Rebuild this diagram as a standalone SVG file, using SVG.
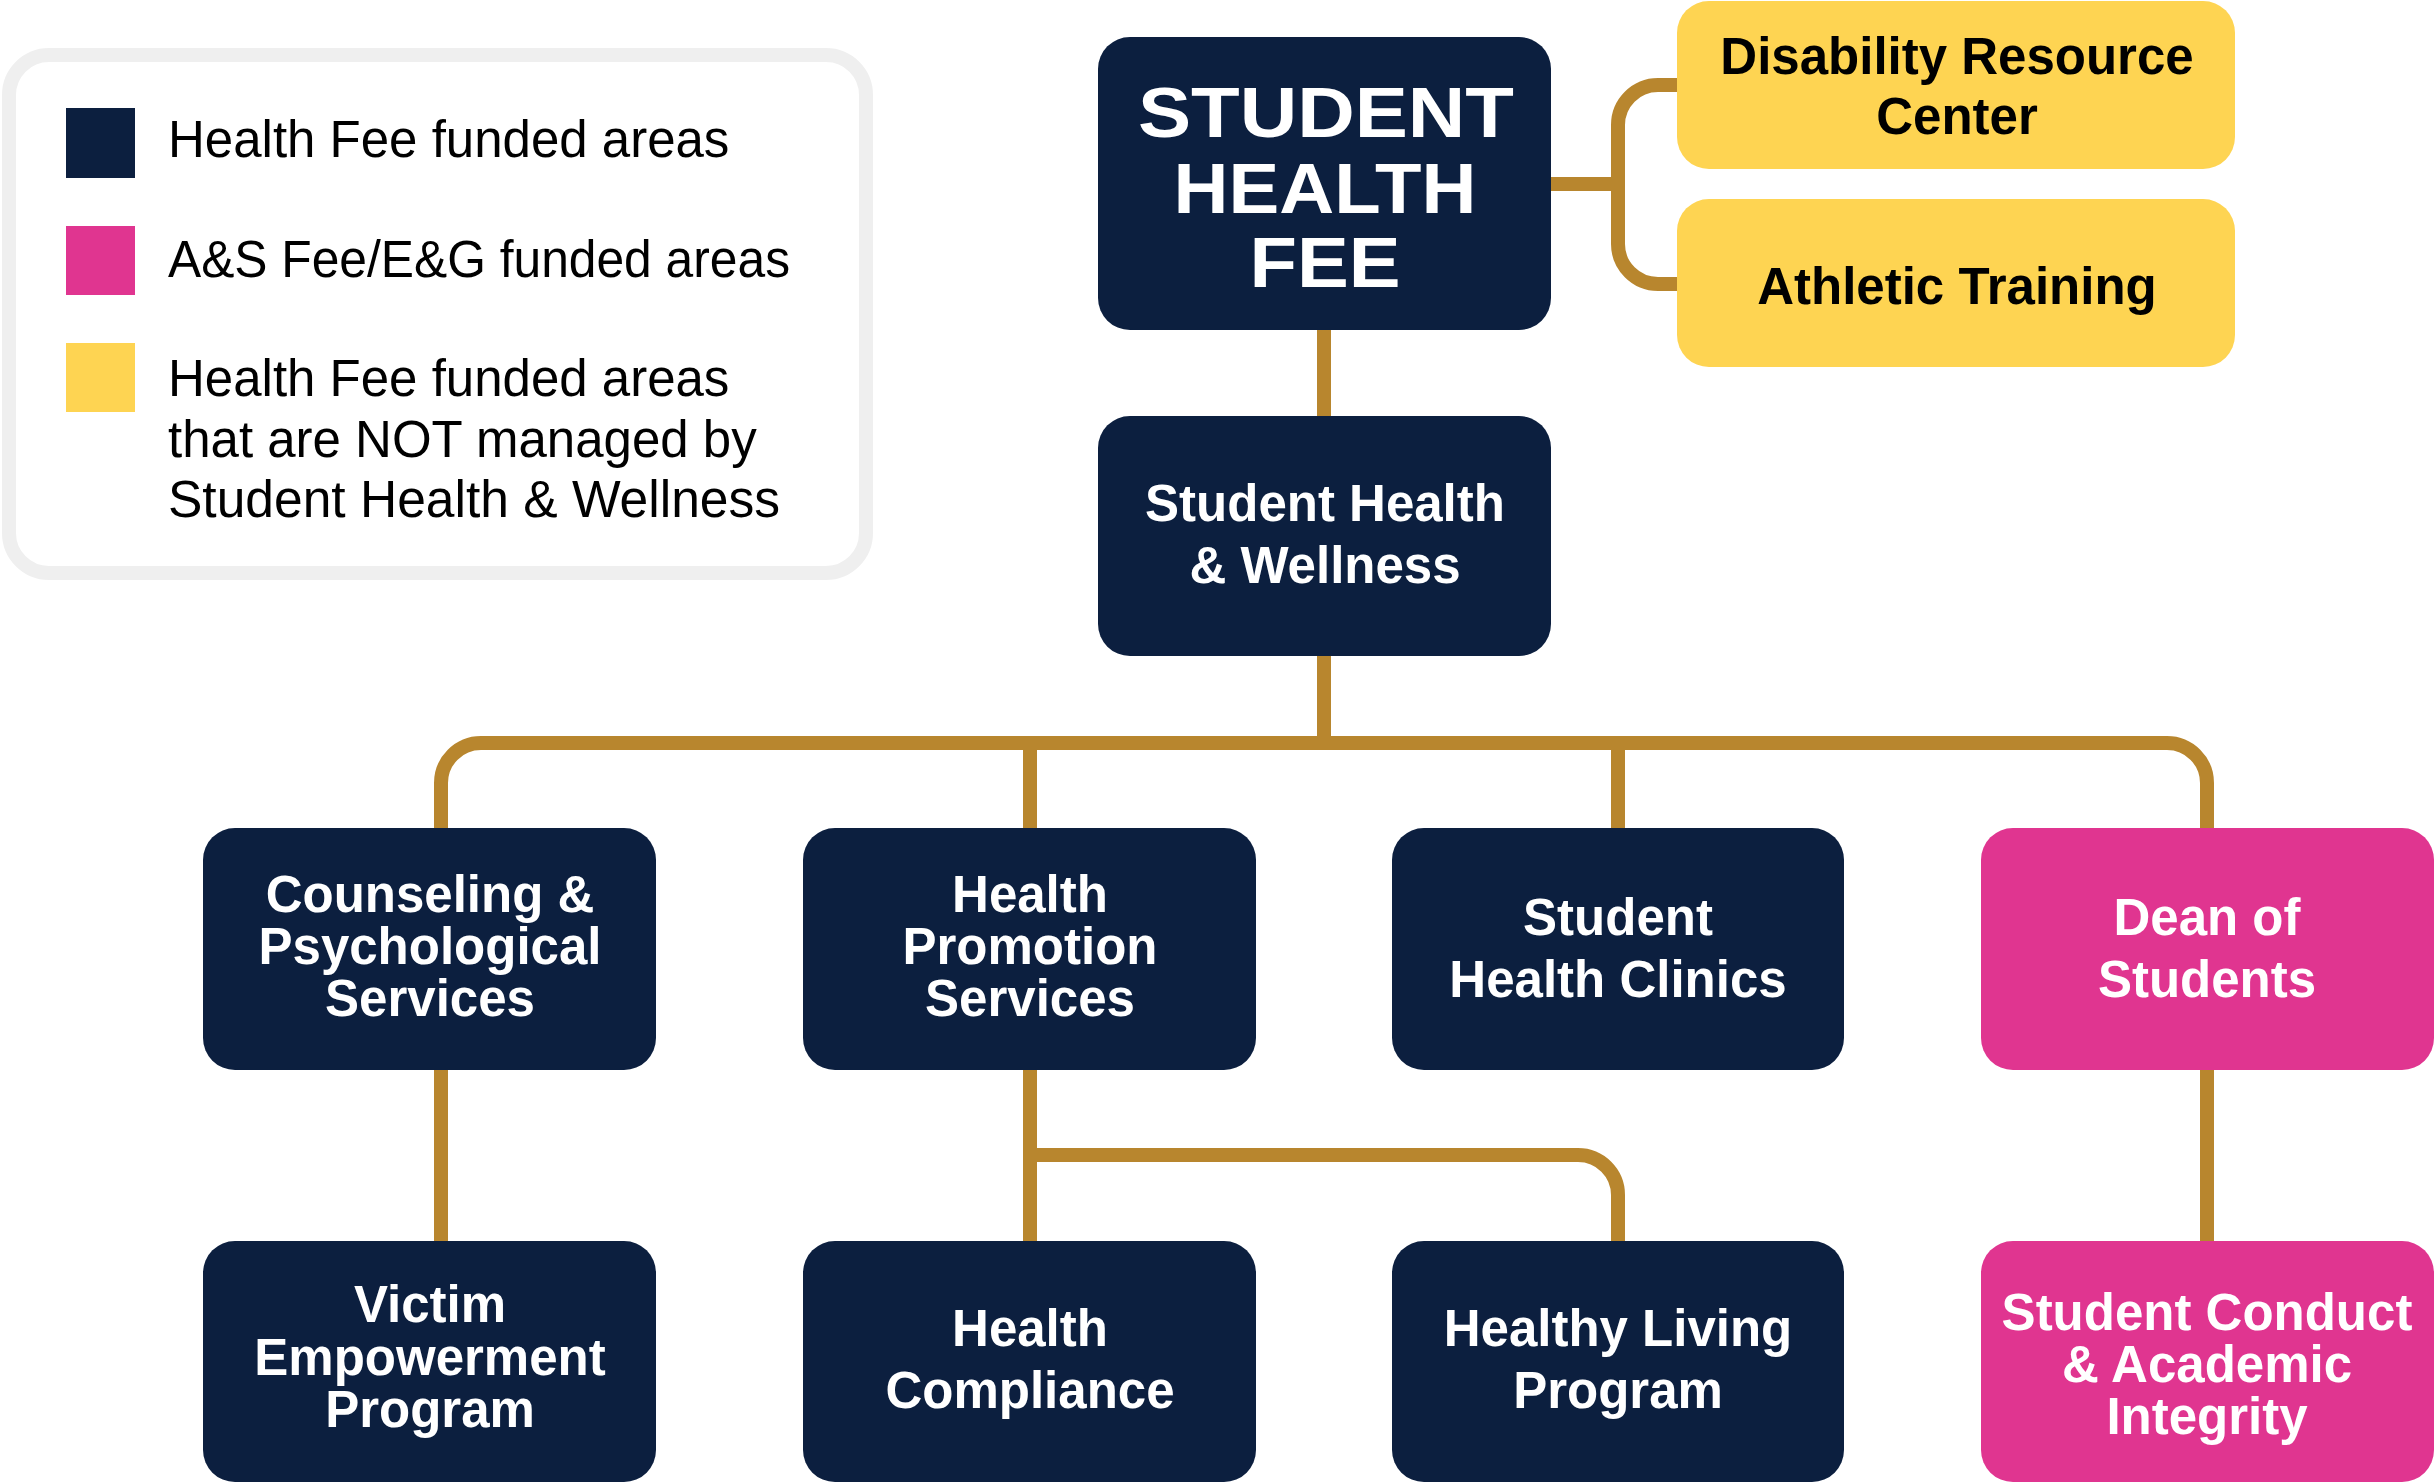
<svg xmlns="http://www.w3.org/2000/svg" width="2435" height="1483" viewBox="0 0 2435 1483">
<style>
.navy{fill:#0c1f3f}
.pink{fill:#e03590}
.yel{fill:#fed452}
.conn{fill:none;stroke:#b8862e;stroke-width:14}
.lbl{font-family:"Liberation Sans",Arial,sans-serif;font-weight:bold;font-size:51px;text-anchor:middle}
.w{fill:#ffffff}
.k{fill:#000000}
.leg{font-family:"Liberation Sans",Arial,sans-serif;font-size:51px;fill:#000000}
.big{font-family:"Liberation Sans",Arial,sans-serif;font-weight:bold;font-size:70px;fill:#ffffff;text-anchor:middle}
</style>
<rect width="2435" height="1483" fill="#ffffff"/>
<g id="legend">
<rect x="9" y="55" width="857" height="518" rx="40" fill="#ffffff" stroke="#efefef" stroke-width="14"/>
<rect x="66" y="108" width="69" height="70" class="navy"/>
<rect x="66" y="226" width="69" height="69" class="pink"/>
<rect x="66" y="343" width="69" height="69" class="yel"/>
<text class="leg" x="168" y="157">Health Fee funded areas</text>
<text class="leg" x="168" y="277" textLength="622" lengthAdjust="spacingAndGlyphs">A&amp;S Fee/E&amp;G funded areas</text>
<text class="leg" x="168" y="396">Health Fee funded areas</text>
<text class="leg" x="168" y="457">that are NOT managed by</text>
<text class="leg" x="168" y="517" textLength="612" lengthAdjust="spacingAndGlyphs">Student Health &amp; Wellness</text>
</g>
<g id="connectors">
<path class="conn" d="M1324 330 V416"/>
<path class="conn" d="M1551 184 H1618"/>
<path class="conn" d="M1678 85 H1658 A40 40 0 0 0 1618 125 V244 A40 40 0 0 0 1658 284 H1678"/>
<path class="conn" d="M1324 656 V743"/>
<path class="conn" d="M441 828 V783 A40 40 0 0 1 481 743 H2167 A40 40 0 0 1 2207 783 V828"/>
<path class="conn" d="M1030 743 V828"/>
<path class="conn" d="M1618 743 V828"/>
<path class="conn" d="M441 1070 V1241"/>
<path class="conn" d="M1030 1070 V1241"/>
<path class="conn" d="M1030 1155 H1578 A40 40 0 0 1 1618 1195 V1241"/>
<path class="conn" d="M2207 1070 V1241"/>
</g>
<g id="student-health-fee">
<rect x="1098" y="37" width="453" height="293" rx="32" class="navy"/>
<text class="big" x="1326" y="137" textLength="376" lengthAdjust="spacingAndGlyphs">STUDENT</text>
<text class="big" x="1325" y="213" textLength="303" lengthAdjust="spacingAndGlyphs">HEALTH</text>
<text class="big" x="1325" y="287" textLength="151" lengthAdjust="spacingAndGlyphs">FEE</text>
</g>
<g id="disability-resource-center">
<rect x="1677" y="1" width="558" height="168" rx="32" class="yel"/>
<text class="lbl k" x="1957" y="74">Disability Resource</text>
<text class="lbl k" x="1957" y="134">Center</text>
</g>
<g id="athletic-training">
<rect x="1677" y="199" width="558" height="168" rx="32" class="yel"/>
<text class="lbl k" x="1957" y="304">Athletic Training</text>
</g>
<g id="student-health-wellness">
<rect x="1098" y="416" width="453" height="240" rx="32" class="navy"/>
<text class="lbl w" x="1325" y="521">Student Health</text>
<text class="lbl w" x="1325" y="583">&amp; Wellness</text>
</g>
<g id="counseling">
<rect x="203" y="828" width="453" height="242" rx="32" class="navy"/>
<text class="lbl w" x="430" y="912">Counseling &amp;</text>
<text class="lbl w" x="430" y="964">Psychological</text>
<text class="lbl w" x="430" y="1016">Services</text>
</g>
<g id="health-promotion">
<rect x="803" y="828" width="453" height="242" rx="32" class="navy"/>
<text class="lbl w" x="1030" y="912">Health</text>
<text class="lbl w" x="1030" y="964">Promotion</text>
<text class="lbl w" x="1030" y="1016">Services</text>
</g>
<g id="student-health-clinics">
<rect x="1392" y="828" width="452" height="242" rx="32" class="navy"/>
<text class="lbl w" x="1618" y="935">Student</text>
<text class="lbl w" x="1618" y="997">Health Clinics</text>
</g>
<g id="dean-of-students">
<rect x="1981" y="828" width="453" height="242" rx="32" class="pink"/>
<text class="lbl w" x="2207" y="935">Dean of</text>
<text class="lbl w" x="2207" y="997">Students</text>
</g>
<g id="victim-empowerment">
<rect x="203" y="1241" width="453" height="241" rx="32" class="navy"/>
<text class="lbl w" x="430" y="1322">Victim</text>
<text class="lbl w" x="430" y="1375">Empowerment</text>
<text class="lbl w" x="430" y="1427">Program</text>
</g>
<g id="health-compliance">
<rect x="803" y="1241" width="453" height="241" rx="32" class="navy"/>
<text class="lbl w" x="1030" y="1346">Health</text>
<text class="lbl w" x="1030" y="1408">Compliance</text>
</g>
<g id="healthy-living">
<rect x="1392" y="1241" width="452" height="241" rx="32" class="navy"/>
<text class="lbl w" x="1618" y="1346">Healthy Living</text>
<text class="lbl w" x="1618" y="1408">Program</text>
</g>
<g id="student-conduct">
<rect x="1981" y="1241" width="453" height="241" rx="32" class="pink"/>
<text class="lbl w" x="2207" y="1330">Student Conduct</text>
<text class="lbl w" x="2207" y="1382">&amp; Academic</text>
<text class="lbl w" x="2207" y="1434">Integrity</text>
</g>
</svg>
